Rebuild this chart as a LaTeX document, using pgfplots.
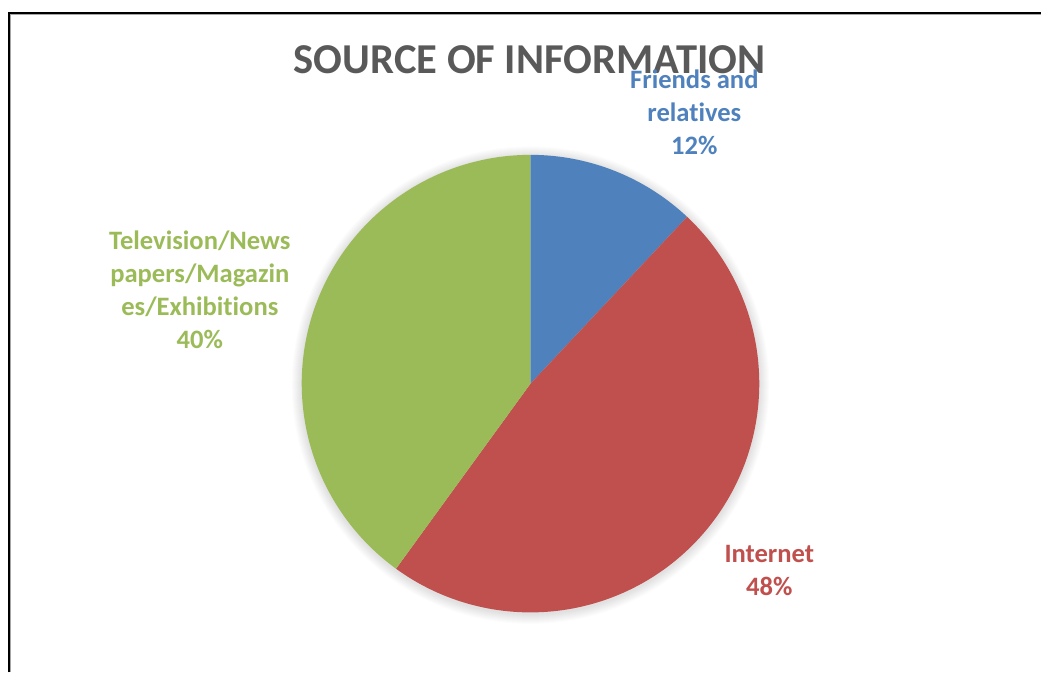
\documentclass[border=0pt]{standalone}
\usepackage{fontspec}
\setmainfont[Ligatures={NoCommon,NoContextual},Contextuals=NoAlternate]{Carlito}
\usepackage{pgfplots}
\usepackage{pgfplotstable}
\pgfplotsset{compat=1.18}
\definecolor{cblue}{HTML}{4F81BD}
\definecolor{cred}{HTML}{C0504D}
\definecolor{cgreen}{HTML}{9BBB59}
\definecolor{ctitle}{HTML}{595959}
\pgfplotstableread{
name share
Friends 12
Internet 48
Television 40
}\pietable
\pgfplotstablegetelem{0}{share}\of\pietable \let\sA\pgfplotsretval
\pgfplotstablegetelem{1}{share}\of\pietable \let\sB\pgfplotsretval
\pgfplotstablegetelem{2}{share}\of\pietable \let\sC\pgfplotsretval
\pgfmathsetmacro{\aO}{90}
\pgfmathsetmacro{\aA}{\aO-3.6*\sA}
\pgfmathsetmacro{\aB}{\aA-3.6*\sB}
\pgfmathsetmacro{\aC}{\aB-3.6*\sC}
\def\cx{531}
\def\cy{289}
\def\R{229}
\begin{document}
\begin{tikzpicture}
\begin{axis}[x=1pt, y=1pt, xmin=0, xmax=1042, ymin=0, ymax=673,
  hide axis, clip=false, scale only axis]
\path (axis cs:0,0) rectangle (axis cs:1042,673);
% border
\draw[gray!70, line width=1pt] (axis cs:10.5,0) -- (axis cs:10.5,658.5) -- (axis cs:1042,658.5);
\draw[black, line width=2pt] (axis cs:9,0) -- (axis cs:9,660) -- (axis cs:1042,660);
% soft shadow
\pgfplotsinvokeforeach{1,...,10}{
  \fill[black, opacity=0.012] (axis cs:531,287.5) circle[radius=229+#1];
}
% slices
\addplot[fill=cblue, draw=none, domain=\aO:\aA, samples=80, variable=\t]
  ({\cx+\R*cos(\t)},{\cy+\R*sin(\t)}) -- (axis cs:\cx,\cy) -- cycle;
\addplot[fill=cred, draw=none, domain=\aA:\aB, samples=200, variable=\t]
  ({\cx+\R*cos(\t)},{\cy+\R*sin(\t)}) -- (axis cs:\cx,\cy) -- cycle;
\addplot[fill=cgreen, draw=none, domain=\aB:\aC, samples=200, variable=\t]
  ({\cx+\R*cos(\t)},{\cy+\R*sin(\t)}) -- (axis cs:\cx,\cy) -- cycle;
% title
\node[text=ctitle, font=\fontsize{42.6}{50}\selectfont\bfseries] at (axis cs:530,613) {SOURCE OF INFORMATION};
% labels
\node[text=cblue, align=center, font=\fontsize{26.6}{33}\selectfont\bfseries] at (axis cs:695,561) {Friends and\\relatives\\\sA\%};
\node[text=cred, align=center, font=\fontsize{26.6}{33}\selectfont\bfseries] at (axis cs:770,102) {Internet\\\sB\%};
\node[text=cgreen, align=center, font=\fontsize{26.6}{33}\selectfont\bfseries] at (axis cs:200,383) {Television/News\\papers/Magazin\\es/Exhibitions\\\sC\%};
\end{axis}
\end{tikzpicture}
\end{document}
